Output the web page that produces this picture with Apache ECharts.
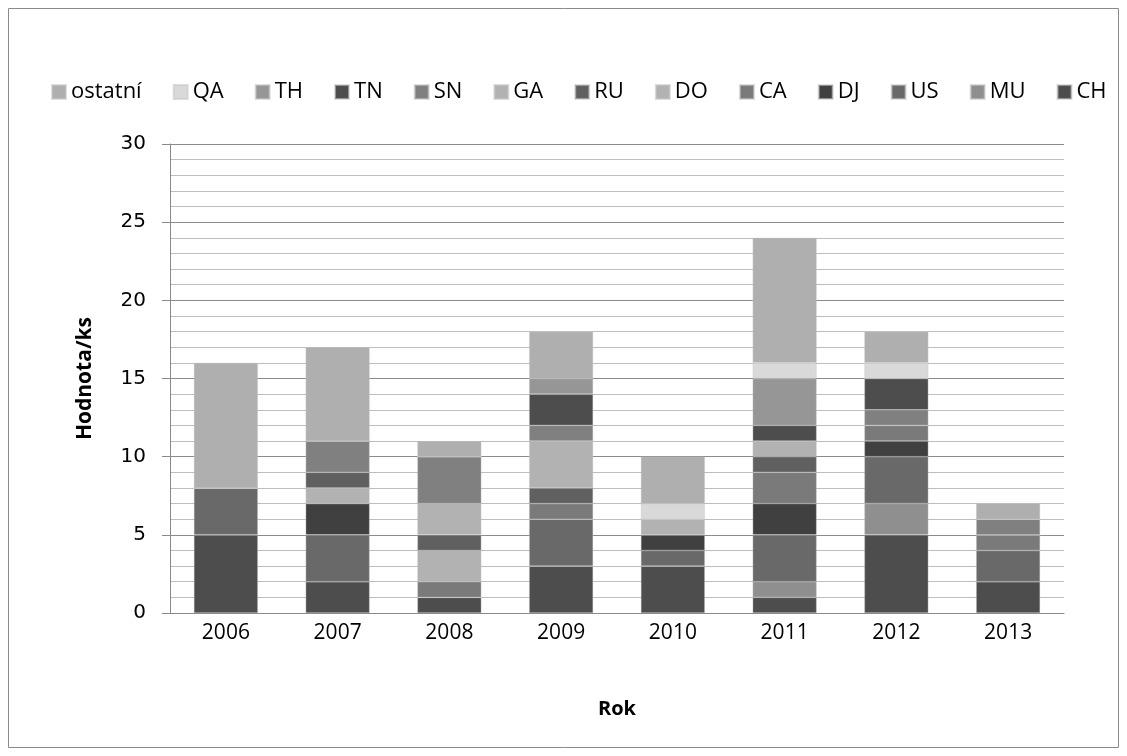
<!DOCTYPE html>
<html>
<head>
<meta charset="utf-8">
<script src="https://cdn.jsdelivr.net/npm/echarts@6/dist/echarts.min.js"></script>
<style>
html,body{margin:0;padding:0;background:#fff;}
#chart{width:1127px;height:756px;}
</style>
</head>
<body>
<div id="chart"></div>
<script>
const categories = ['2006','2007','2008','2009','2010','2011','2012','2013'];
// series listed bottom of stack to top
const CH = [5,2,1,3,3,1,5,2];
const MU = [0,0,0,0,0,1,2,0];
const US = [3,3,0,3,1,3,3,2];
const DJ = [0,2,0,0,1,2,1,0];
const CA = [0,0,1,1,0,2,1,1];
const DO = [0,1,2,0,1,0,0,0];
const RU = [0,1,1,1,0,1,0,0];
const GA = [0,0,2,3,0,1,0,0];
const SN = [0,2,3,1,0,0,1,1];
const TN = [0,0,0,2,0,1,2,0];
const TH = [0,0,0,1,0,3,0,0];
const QA = [0,0,0,0,1,1,1,0];
const ostatni = [8,6,1,3,3,8,2,1];
const yTicks = [0,5,10,15,20,25,30];

const seriesDefs = [
  ['CH', CH, '#4d4d4d'],
  ['MU', MU, '#8f8f8f'],
  ['US', US, '#696969'],
  ['DJ', DJ, '#404040'],
  ['CA', CA, '#7a7a7a'],
  ['DO', DO, '#b2b2b2'],
  ['RU', RU, '#606060'],
  ['GA', GA, '#b2b2b2'],
  ['SN', SN, '#808080'],
  ['TN', TN, '#4d4d4d'],
  ['TH', TH, '#969696'],
  ['QA', QA, '#d9d9d9'],
  ['ostatní', ostatni, '#afafaf']
];

const font = "'Open Sans', sans-serif";

const chart = echarts.init(document.getElementById('chart'), null, {renderer:'canvas'});
chart.setOption({
  animation: false,
  backgroundColor: '#fff',
  graphic: [{
    type: 'rect',
    shape: {x: 8.5, y: 8.5, width: 1110, height: 739},
    style: {fill: 'none', stroke: '#8a8a8a', lineWidth: 1},
    silent: true, z: -1
  }],
  legend: {
    data: seriesDefs.map(d => d[0]).reverse(),
    left: 46,
    top: 76,
    itemWidth: 14,
    itemHeight: 14,
    itemGap: 31,
    icon: 'rect',
    textStyle: {fontFamily: font, fontSize: 22, color: '#000', padding: [0,0,0,0]}
  },
  grid: {left: 170, right: 63, top: 144, bottom: 143, containLabel: false},
  xAxis: {
    type: 'category',
    data: categories,
    name: 'Rok',
    nameLocation: 'middle',
    nameGap: 86,
    nameTextStyle: {fontFamily: font, fontSize: 20, fontWeight: 'bold', color: '#000'},
    axisLine: {lineStyle: {color: '#8a8a8a', width: 1}},
    axisTick: {show: false},
    axisLabel: {fontFamily: font, fontSize: 21, color: '#000', margin: 10}
  },
  yAxis: {
    type: 'value',
    min: yTicks[0],
    max: yTicks[yTicks.length-1],
    interval: 5,
    name: 'Hodnota/ks',
    nameLocation: 'middle',
    nameGap: 74,
    nameRotate: 90,
    nameTextStyle: {fontFamily: font, fontSize: 21, fontWeight: 'bold', color: '#000'},
    axisLine: {show: true, lineStyle: {color: '#8a8a8a', width: 1}},
    axisTick: {show: true, length: 8, lineStyle: {color: '#8a8a8a'}},
    axisLabel: {fontFamily: "'DejaVu Sans', sans-serif", fontSize: 20, color: '#000', margin: 24},
    splitLine: {show: true, lineStyle: {color: '#8c8c8c', width: 1}},
    minorTick: {show: false, splitNumber: 5},
    minorSplitLine: {show: true, lineStyle: {color: '#bdbdbd', width: 1}}
  },
  series: seriesDefs.map(d => ({
    name: d[0],
    type: 'bar',
    stack: 'total',
    data: d[1],
    barWidth: 64,
    itemStyle: {color: d[2], borderColor: 'rgba(200,200,200,0.6)', borderWidth: 0.6},
    emphasis: {disabled: true}
  }))
});
</script>
</body>
</html>
